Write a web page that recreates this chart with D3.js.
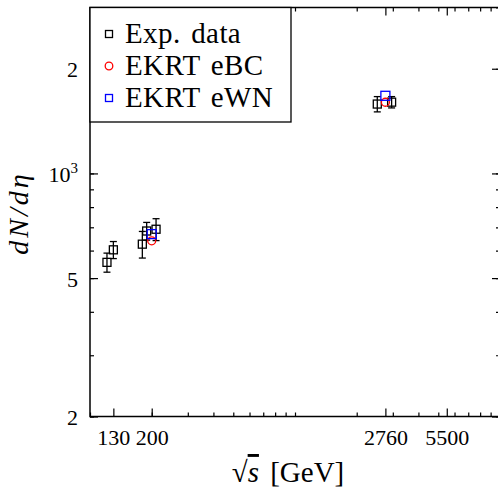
<!DOCTYPE html>
<html lang="en">
	<head>
		<meta charset="utf-8">
		<title>dN/deta vs sqrt(s)</title>
		<style>
			body { margin: 0; background: #fff; }
			#graph text, #graph tspan { font-family: "Liberation Serif", "DejaVu Serif", serif !important; fill: #000; }
			#graph .tick line { stroke: #000; stroke-width: 1.2; }
		</style>
	</head>
	<body>
		<svg id="graph" width="498" height="490" font-family="Liberation Serif"></svg>

		<script src="https://d3js.org/d3.v7.min.js"></script>
		<script>
			"use strict";

			// experimental points (sqrt(s) in GeV, dN/deta, error)
			var expEnergy = [121, 130, 180, 189, 210, 2520, 2960];
			var expValue = [555, 603, 626, 683, 691, 1583, 1603];
			var expError = [35, 34, 55, 40, 50, 80, 60];

			// EKRT model points
			var modelEnergy = [200, 2760];
			var ebcValue = [640, 1602];
			var ewnValue = [669, 1672];

			var xTicks = [130, 200, 2760, 5500];
			var yTicks = [200, 500, 1000, 2000];
			var yTickLabels = ["2", "5", "10^3", "2"];
			var legendNames = ["Exp. data", "EKRT eBC", "EKRT eWN"];

			var mLeft = 90, mRight = 500, mTop = 7.5, mBottom = 416.5;
			var serif = "Liberation Serif";

			var svg = d3.select("#graph");

			var x = d3.scaleLog().domain([100, 10000]).range([mLeft, mRight]);
			var y = d3.scaleLog().domain([200, 3000]).range([mBottom, mTop]);

			// minor ticks at 1..9 x 10^k
			var xMinor = [], yMinor = [];
			[100, 1000].forEach(function(b){
				for (var k = 1; k <= 9; k++) xMinor.push(b * k);
			});
			xMinor.push(10000);
			[100, 1000].forEach(function(b){
				for (var k = 1; k <= 9; k++) {
					var v = b * k;
					if (v >= 200 && v <= 3000) yMinor.push(v);
				}
			});

			function tickAxis(axis, vals, size){
				return axis.tickValues(vals).tickSize(size).tickSizeOuter(0).tickFormat("");
			}

			// minor ticks, all four sides (inward)
			svg.append("g").attr("transform", "translate(0," + mBottom + ")")
				.call(tickAxis(d3.axisBottom(x), xMinor, -4));
			svg.append("g").attr("transform", "translate(0," + mTop + ")")
				.call(tickAxis(d3.axisTop(x), xMinor, -4));
			svg.append("g").attr("transform", "translate(" + mLeft + ",0)")
				.call(tickAxis(d3.axisLeft(y), yMinor, -4));
			svg.append("g").attr("transform", "translate(" + mRight + ",0)")
				.call(tickAxis(d3.axisRight(y), yMinor, -4));

			// major ticks
			svg.append("g").attr("transform", "translate(0," + mTop + ")")
				.call(tickAxis(d3.axisTop(x), xTicks, -8));
			svg.append("g").attr("transform", "translate(" + mRight + ",0)")
				.call(tickAxis(d3.axisRight(y), yTicks, -8));

			var gx = svg.append("g").attr("transform", "translate(0," + mBottom + ")")
				.call(d3.axisBottom(x).tickValues(xTicks).tickSize(-8).tickSizeOuter(0).tickFormat(d3.format("d")));
			gx.attr("font-family", serif);
			gx.selectAll("text").attr("y", 28).attr("dy", 0)
				.style("font-family", serif).style("font-size", "22px");

			var gy = svg.append("g").attr("transform", "translate(" + mLeft + ",0)")
				.call(d3.axisLeft(y).tickValues(yTicks).tickSize(-8).tickSizeOuter(0).tickFormat(""));
			gy.attr("font-family", serif);
			gy.selectAll(".tick text").remove();
			gy.selectAll(".tick").each(function(d, i){
				var t = d3.select(this).append("text")
					.attr("x", -12).attr("y", 8)
					.attr("text-anchor", "end")
					.style("font-family", serif)
					.style("font-size", "22px");
				var parts = yTickLabels[i].split("^");
				t.append("tspan").text(parts[0]);
				if (parts.length > 1) {
					t.append("tspan").attr("dy", -9).style("font-size", "15px").text(parts[1]);
				}
			});

			svg.selectAll(".domain").remove();

			// frame
			svg.append("rect")
				.attr("x", mLeft).attr("y", mTop)
				.attr("width", mRight - mLeft).attr("height", mBottom - mTop)
				.attr("fill", "none").attr("stroke", "#000").attr("stroke-width", 1.5);

			// experimental data with error bars
			var expData = expEnergy.map(function(e, i){
				return { e: e, v: expValue[i], err: expError[i] };
			});
			var pts = svg.append("g").selectAll("g").data(expData).enter().append("g");
			pts.append("line")
				.attr("x1", function(d){ return x(d.e); })
				.attr("x2", function(d){ return x(d.e); })
				.attr("y1", function(d){ return y(d.v - d.err); })
				.attr("y2", function(d){ return y(d.v + d.err); })
				.attr("stroke", "#000").attr("stroke-width", 1.3);
			[-1, 1].forEach(function(s){
				pts.append("line")
					.attr("x1", function(d){ return x(d.e) - 3.5; })
					.attr("x2", function(d){ return x(d.e) + 3.5; })
					.attr("y1", function(d){ return y(d.v + s * d.err); })
					.attr("y2", function(d){ return y(d.v + s * d.err); })
					.attr("stroke", "#000").attr("stroke-width", 1.3);
			});
			pts.append("rect")
				.attr("x", function(d){ return x(d.e) - 4; })
				.attr("y", function(d){ return y(d.v) - 4; })
				.attr("width", 8).attr("height", 8)
				.attr("fill", "none").attr("stroke", "#000").attr("stroke-width", 1.3);

			// EKRT eBC (red circles)
			svg.append("g").selectAll("circle").data(modelEnergy).enter().append("circle")
				.attr("cx", function(d){ return x(d); })
				.attr("cy", function(d, i){ return y(ebcValue[i]); })
				.attr("r", 4)
				.attr("fill", "none").attr("stroke", "#f00").attr("stroke-width", 1.3);

			// EKRT eWN (blue squares)
			svg.append("g").selectAll("rect").data(modelEnergy).enter().append("rect")
				.attr("x", function(d){ return x(d) - 4.5; })
				.attr("y", function(d, i){ return y(ewnValue[i]) - 4.5; })
				.attr("width", 9).attr("height", 9)
				.attr("fill", "none").attr("stroke", "#00f").attr("stroke-width", 1.3);

			// legend
			var lg = svg.append("g");
			lg.append("rect")
				.attr("x", mLeft).attr("y", mTop)
				.attr("width", 201).attr("height", 114.5)
				.attr("fill", "#fff").attr("stroke", "#000").attr("stroke-width", 1.3);
			var rows = lg.selectAll("g").data(legendNames).enter().append("g")
				.attr("transform", function(d, i){ return "translate(0," + (34 + i * 32) + ")"; });
			rows.append("text")
				.attr("x", 125).attr("y", 9)
				.style("font-family", serif)
				.style("font-size", "29px")
				.style("letter-spacing", "0.4px")
				.style("word-spacing", "3px")
				.text(function(d){ return d; });
			rows.filter(function(d, i){ return i !== 1; }).append("rect")
				.attr("x", 105.5).attr("y", -3.5).attr("width", 7).attr("height", 7)
				.attr("fill", "none")
				.attr("stroke", function(d){ return d === legendNames[0] ? "#000" : "#00f"; })
				.attr("stroke-width", 1.3);
			rows.filter(function(d, i){ return i === 1; }).append("circle")
				.attr("cx", 109).attr("cy", 0).attr("r", 3.8)
				.attr("fill", "none").attr("stroke", "#f00").attr("stroke-width", 1.3);

			// axis titles
			var xt = svg.append("text")
				.attr("x", 288).attr("y", 482)
				.attr("text-anchor", "middle")
				.style("font-family", serif)
				.style("font-size", "29px")
				.style("word-spacing", "4px");
			xt.append("tspan").text("\u221A");
			xt.append("tspan").style("font-style", "italic").attr("text-decoration", "overline").text("s");
			xt.append("tspan").text(" [GeV]");

			svg.append("text")
				.attr("transform", "translate(28,213) rotate(-90)")
				.attr("text-anchor", "middle")
				.style("font-family", serif)
				.style("font-size", "28px")
				.style("font-style", "italic")
				.style("letter-spacing", "3px")
				.text("dN/d\u03B7");
		</script>
	</body>
</html>
